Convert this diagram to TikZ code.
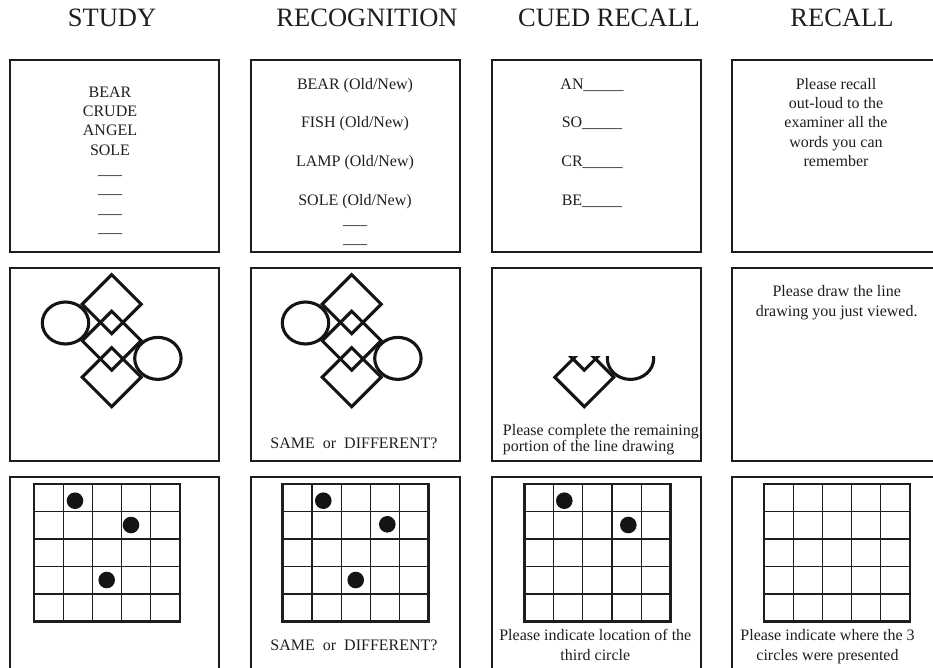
\documentclass[tikz,border=0pt]{standalone}
\usepackage{fontspec}
\setmainfont{Liberation Serif}
\usetikzlibrary{positioning}
\definecolor{ink}{RGB}{30,30,30}
\newcommand{\bodyfont}{\fontsize{16}{19.3}\selectfont}
\newcommand{\headfont}{\fontsize{26.5}{31}\selectfont}

% line drawing (three diamonds, two circles), centred at #1
\newcommand{\linedrawing}[1]{%
  \begin{scope}[shift={#1}, figline]
    \foreach \dy in {-36.5,0,36.5}
      \draw (0,\dy-29.5) -- (29.5,\dy) -- (0,\dy+29.5) -- (-29.5,\dy) -- cycle;
    \draw (-46.2,-17.7) ellipse [x radius=23.2, y radius=21];
    \draw (46.2,17.7) ellipse [x radius=23.2, y radius=21];
  \end{scope}}

% 5x5 grid, top left corner at #1
\newcommand{\dotgrid}[1]{%
  \begin{scope}[shift={#1}]
    \foreach \i in {1,...,4} {
      \draw[gridline] (\i*29.2,0) -- (\i*29.2,137.5);
      \draw[gridline] (0,\i*27.5) -- (146,\i*27.5);
    }
    \draw[gridframe] (0,0) rectangle (146,137.5);
  \end{scope}}

\begin{document}
\begin{tikzpicture}[
      x=1pt, y=-1pt,
      panel/.style={draw=ink, line width=1.2pt},
      head/.style={font=\headfont, text=ink, anchor=base, inner sep=0pt},
      txt/.style={font=\bodyfont, text=ink, anchor=base, inner sep=0pt},
      figline/.style={draw=black!92, line width=3.1pt, line join=miter},
      gridline/.style={draw=ink, line width=1.2pt},
      gridframe/.style={draw=ink, line width=2.9pt},
      dot/.style={fill=black!92}
    ]
      \useasboundingbox (0,0) rectangle (933,668);

      % panels (4 columns x 3 rows)
      \foreach \px in {10,251,492,732}
        \foreach \py/\qy in {60/252,268/461,477/670}
          \draw[panel] (\px,\py) rectangle (\px+209,\qy);

      % column titles
      \node[head] (hstudy) at (112,26.7) {STUDY};
      \node[head] (hrecog) at (367,26.7) {RECOGNITION};
      \node[head] (hcued) at (609,26.7) {CUED RECALL};
      \node[head] (hrecall) at (842,26.7) {RECALL};

      % word lists
      \foreach \w [count=\k from 0] in {BEAR,CRUDE,ANGEL,SOLE,\_\_\_,\_\_\_,\_\_\_,\_\_\_}
        \node[txt] (study\k) at (110,97.3+\k*19.3) {\w};

      \foreach \w [count=\k from 0] in {BEAR,FISH,LAMP,SOLE}
        \node[txt] (recog\k) at (355,89.3+\k*38.6) {\w\ (Old/New)};
      \node[txt] (recog4) at (355,224.3) {\_\_\_};
      \node[txt] (recog5) at (355,243.6) {\_\_\_};

      \foreach \w [count=\k from 0] in {AN,SO,CR,BE}
        \node[txt] (cue\k) at (592,89.3+\k*38.6) {\w\_\_\_\_\_};

      \foreach \w [count=\k from 0] in {Please recall,out-loud to the,examiner all the,words you can,remember}
        \node[txt] (recall\k) at (836,89.3+\k*19.3) {\w};

      % line drawings
      \linedrawing{(111.7,340.7)}
      \linedrawing{(351.7,340.7)}
      \begin{scope}
        \clip (492,356) rectangle (701,461);
        \linedrawing{(584.3,340.7)}
      \end{scope}

      \node[txt] (same1) at (354,448.3) {SAME~ or~ DIFFERENT?};
      \node[txt, anchor=base west] (cuefig1) at (502.7,435) {Please complete the remaining};
      \node[txt, anchor=base west] (cuefig2) at (502.7,451.7) {portion of the line drawing};
      \node[txt] (recfig1) at (836.7,296) {Please draw the line};
      \node[txt] (recfig2) at (836.7,316) {drawing you just viewed.};

      % grids with circles
      \dotgrid{(34,484)}
      \dotgrid{(282.7,484)}
      \dotgrid{(524.3,484)}
      \dotgrid{(764,484)}
      \foreach \cx/\cy in {75/500.7,131/525,106.7/580,
                           323.3/500.7,387.3/524.3,355.7/580,
                           564.3/500.7,628.3/525}
        \fill[dot] (\cx,\cy) circle [radius=8.3];

      \node[txt] (same2) at (354,650) {SAME~ or~ DIFFERENT?};
      \node[txt] (cuegrid1) at (595.3,640.7) {Please indicate location of the};
      \node[txt] (cuegrid2) at (595.3,660.7) {third circle};
      \node[txt] (recgrid1) at (827.5,640.7) {Please indicate where the 3};
      \node[txt] (recgrid2) at (827.5,660.7) {circles were presented};
    \end{tikzpicture}
\end{document}
